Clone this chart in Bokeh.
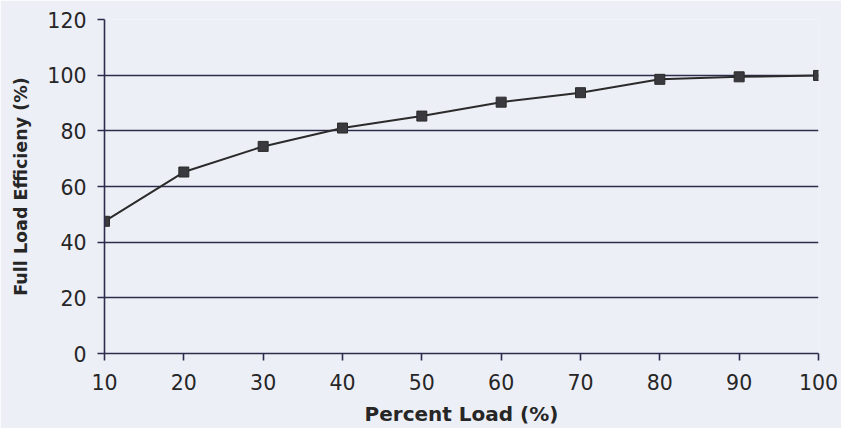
from bokeh.plotting import figure
from bokeh.models import Range1d, FixedTicker
from bokeh.embed import file_html
from bokeh.resources import INLINE

load_pct = [10, 20, 30, 40, 50, 60, 70, 80, 90, 100]
efficiency = [47.5, 65.2, 74.4, 81.0, 85.3, 90.3, 93.7, 98.5, 99.4, 99.9]
y_ticks = [0, 20, 40, 60, 80, 100, 120]
x_title = "Percent Load (%)"
y_title = "Full Load Efficieny (%)"

BG = "#edeff6"
GRID = "#2c2c4c"
INK = "#262626"
FONT = "DejaVu Sans"

p = figure(width=841, height=428, x_range=Range1d(10, 100), y_range=Range1d(0, 120),
           output_backend="svg", toolbar_location=None,
           min_border_left=104, min_border_right=23, min_border_top=19, min_border_bottom=75)
p.background_fill_color = BG
p.border_fill_color = BG
p.outline_line_color = None

p.xgrid.visible = False
p.ygrid.grid_line_color = GRID
p.ygrid.grid_line_width = 1.6

p.xaxis.ticker = FixedTicker(ticks=load_pct)
p.yaxis.ticker = FixedTicker(ticks=y_ticks)
for ax in (p.xaxis, p.yaxis):
    ax.axis_line_color = GRID
    ax.axis_line_width = 1.6
    ax.major_tick_line_color = GRID
    ax.major_tick_line_width = 1.6
    ax.major_tick_out = 7
    ax.major_tick_in = 0
    ax.minor_tick_line_color = None
    ax.major_label_text_font = FONT
    ax.major_label_text_font_size = "20.5px"
    ax.major_label_text_color = INK
    ax.axis_label_text_font = FONT
    ax.axis_label_text_font_style = "bold"
    ax.axis_label_text_color = INK

p.xaxis.axis_label = x_title
p.yaxis.axis_label = y_title
p.xaxis.axis_label_text_font_size = "20px"
p.yaxis.axis_label_text_font_size = "17.5px"
p.xaxis.major_label_standoff = 13
p.yaxis.major_label_standoff = 11
p.xaxis.axis_label_standoff = 9
p.yaxis.axis_label_standoff = 13

p.line(load_pct, efficiency, line_color="#2b2b2b", line_width=2)
p.scatter(load_pct, efficiency, marker="square", size=10, fill_color="#3a3a3e",
          line_color="#2b2b2b", line_width=1)

open("out.html", "w").write(file_html(p, INLINE))
